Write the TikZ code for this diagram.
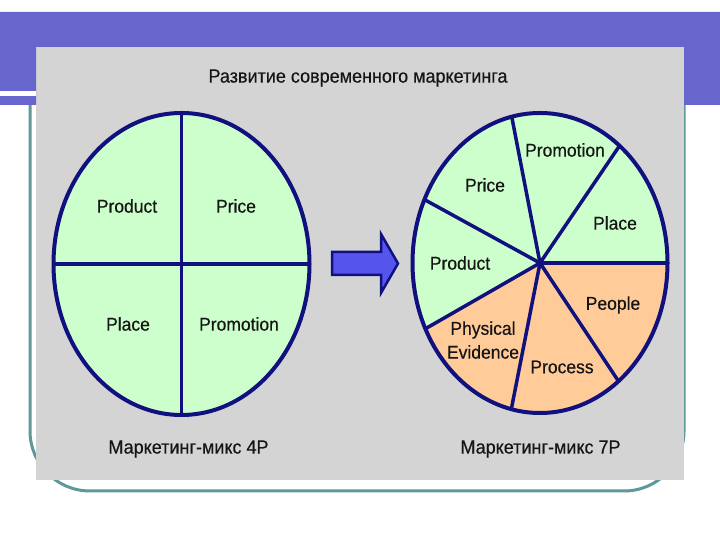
\documentclass[tikz,border=0pt]{standalone}
\usepackage{fontspec}
\setmainfont{Liberation Sans}
\newfontface\thickfont{Liberation Sans}[FakeBold=0.4]
\definecolor{barblue}{HTML}{6666CC}
\definecolor{panelgray}{HTML}{D4D4D4}
\definecolor{frameteal}{HTML}{5E9898}
\definecolor{navy}{HTML}{10107E}
\definecolor{lgreen}{HTML}{CCFFCC}
\definecolor{lorange}{HTML}{FFCC99}
\definecolor{arrowblue}{HTML}{5555EE}
\definecolor{txt}{HTML}{151515}
\tikzset{
  lbl/.style={inner sep=0pt, text=txt, font=\thickfont\fontsize{17.5}{19}\selectfont, yscale=1.06},
  ttl/.style={inner sep=0pt, text=txt, font=\thickfont\fontsize{18}{20}\selectfont, yscale=1.06},
  rim/.style={draw=navy, line width=4pt},
  spoke/.style={draw=navy, line width=3.5pt}
}
\begin{document}
\begin{tikzpicture}[x=1pt,y=1pt]
\useasboundingbox (0,0) rectangle (720,540);
\fill[white] (0,0) rectangle (720,540);
% teal frame
\draw[frameteal, line width=3pt, rounded corners=60pt] (30,440) |- (684,49) -- (684,440);
% gray panel
\fill[panelgray] (36,60) rectangle (684,493);
% blue bar
\fill[barblue] (0,435) -- (0,528) -- (720,528) -- (720,435) -- (684,435) -- (684,493) -- (36,493) -- (36,435) -- cycle;
\fill[white] (0,444) rectangle (36,449);
% title
\node[ttl] (title) at (358,462) {Развитие современного маркетинга};
% left ellipse 4P
\coordinate (L) at (181.5,276);
\fill[lgreen] (L) ellipse [x radius=128, y radius=151];
\draw[spoke] (L) ++(0,151) coordinate (Lt) -- ++(0,-302) coordinate (Lb);
\draw[spoke] (L) ++(-128,0) coordinate (Ll) -- ++(256,0) coordinate (Lr);
\draw[rim] (L) ellipse [x radius=128, y radius=151];
\node[lbl] (l1) at (127,334) {Product};
\node[lbl] (l2) at (236,334) {Price};
\node[lbl] (l3) at (128,216) {Place};
\node[lbl] (l4) at (239,216) {Promotion};
% arrow
\filldraw[fill=arrowblue, draw=navy, line width=2.5pt, line join=miter]
  (332,265) -- (381,265) -- (381,247) -- (398,276.5) -- (381,306) -- (381,288) -- (332,288) -- cycle;
% right ellipse 7P
\coordinate (R) at (540,277);
\fill[lgreen] (R) ellipse [x radius=127.5, y radius=150];
\fill[lorange] (R) -- ++(206:127.5 and 150) arc[start angle=206, end angle=360, x radius=127.5, y radius=150] -- cycle;
\foreach \a in {0,51.4,102.8,155,206,257,308}{
  \draw[spoke] (R) -- ++(\a:127.5 and 150);
}
\draw[rim] (R) ellipse [x radius=127.5, y radius=150];
\fill[navy] (R) circle (3.5pt);
\node[lbl] (r1) at (565,390) {Promotion};
\node[lbl] (r2) at (485,355) {Price};
\node[lbl] (r3) at (615,317) {Place};
\node[lbl] (r4) at (460,277) {Product};
\node[lbl] (r5) at (613,235) {People};
\node[lbl] (r6) at (483,210) {Physical};
\node[lbl] (r7) at (483,188) {Evidence};
\node[lbl] (r8) at (562,173) {Process};
% captions
\node[ttl] (c1) at (188.5,91) {Маркетинг-микс 4P};
\node[ttl] (c2) at (540.5,91) {Маркетинг-микс 7P};
\end{tikzpicture}
\end{document}
